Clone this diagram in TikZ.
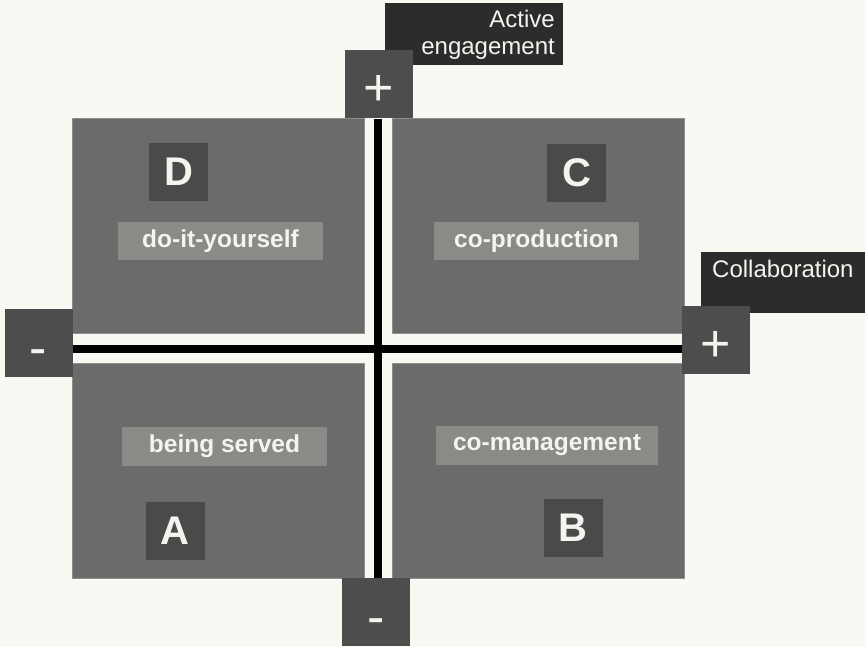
\documentclass[tikz,border=0pt]{standalone}
\usepackage{fontspec}
\setmainfont{Liberation Sans}
\definecolor{bgc}{HTML}{F9F9F4}
\definecolor{quadc}{HTML}{6B6B6B}
\definecolor{quadedge}{HTML}{8E8E8C}
\definecolor{letterc}{HTML}{4A4A4A}
\definecolor{labelc}{HTML}{8A8A86}
\definecolor{signc}{HTML}{4D4D4D}
\definecolor{darkc}{HTML}{2C2C2C}
\definecolor{txtc}{HTML}{F4F4EE}
\tikzset{
  quad/.style={rectangle, fill=quadc, draw=quadedge, line width=1pt, inner sep=0pt, minimum width=292pt, minimum height=214pt},
  letterbox/.style={rectangle, fill=letterc, inner sep=0pt, minimum width=59pt, minimum height=58pt, text=txtc, font=\fontsize{40}{44}\selectfont\bfseries},
  labelbox/.style={rectangle, fill=labelc, inner sep=0pt, minimum width=205pt, minimum height=38pt, text=txtc, font=\fontsize{24.5}{27}\selectfont\bfseries},
  signbox/.style={rectangle, fill=signc, inner sep=0pt, minimum width=68pt, minimum height=68pt, text=txtc, text height=0pt, text depth=0pt, font=\fontsize{52}{56}\selectfont},
  darkbox/.style={rectangle, fill=darkc, inner sep=0pt, text=txtc},
  axisline/.style={draw=black, line width=7.5pt},
  axistext/.style={text=txtc, font=\fontsize{24}{27}\selectfont, inner sep=0pt}
}
\newcommand{\plussign}{\raisebox{-21.5pt}{+}}
\newcommand{\minussign}{\raisebox{-22pt}{-}}
\begin{document}
\begin{tikzpicture}[x=1pt, y=-1pt]
\useasboundingbox (0,0) rectangle (865,647);
\fill[bgc] (0,0) rectangle (865,647);

% quadrants
\node[quad] (qD) at (218,226) {};
\node[quad] (qC) at (538,226) {};
\node[quad, minimum height=215pt] (qA) at (218,470.5) {};
\node[quad, minimum height=215pt] (qB) at (538,470.5) {};

% axis label boxes
\node[darkbox, minimum width=178pt, minimum height=62pt] (active) at (474,34) {};
\node[axistext, anchor=base east, align=right] (activetext) at (555,55) {Active\\engagement};
\node[darkbox, anchor=north west, minimum width=180pt, minimum height=61pt] (collab) at (701,252) {};
\node[axistext, anchor=base west] (collabtext) at (712,277) {Collaboration};

% sign boxes
\node[signbox] (top) at (378.5,84.5) {\plussign};
\node[signbox] (right) at (716,340) {\plussign};
\node[signbox] (left) at (38.5,343) {\minussign};
\node[signbox] (bottom) at (376,612) {\minussign};

% axes
\coordinate (X) at (378,349);
\draw[axisline] (top.south -| X) -- (X |- bottom.north);
\draw[axisline] (left.east |- X) -- (right.west |- X);

% letter boxes
\node[letterbox] (D) at (178.5,172) {D};
\node[letterbox] (C) at (576.5,173) {C};
\node[letterbox] (A) at (175,531) {A};
\node[letterbox] (B) at (573,527.5) {B};

% label boxes
\node[labelbox] (diy) at (220.5,241) {do-it-yourself};
\node[labelbox] (coprod) at (536.5,241) {co-production};
\node[labelbox, minimum height=39pt] (served) at (224.5,446.5) {being served};
\node[labelbox, minimum width=222pt, minimum height=39pt] (comgmt) at (547,445.5) {co-management};
\end{tikzpicture}
\end{document}
